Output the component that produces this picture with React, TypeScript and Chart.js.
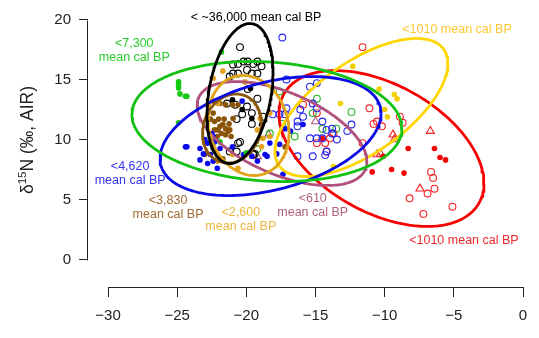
import React, { useEffect, useRef } from "react";
import { Chart, registerables } from "chart.js";

Chart.register(...registerables);

// ---------- axes ----------
const xTickValues = [-30, -25, -20, -15, -10, -5, 0];
const yTickValues = [0, 5, 10, 15, 20];
const yAxisTitle = ["δ", "15", "N (‰, AIR)"];

// ---------- point groups (δ13C, δ15N) ----------
const greenFilled: [number, number][] = [
  [-21.8, 17.3], [-24.9, 14.8], [-24.9, 14.6], [-24.9, 14.3], [-24.8, 13.8],
  [-24.4, 13.6], [-24.3, 13.6], [-24.9, 11.4], [-21.9, 9.8], [-20.0, 8.9],
];
const greenOpen: [number, number][] = [
  [-18.3, 10.5], [-19.2, 9.2], [-17.6, 14.0], [-12.4, 12.3], [-14.9, 13.4],
  [-15.2, 12.2], [-14.5, 10.9], [-13.5, 10.9], [-16.5, 10.25], [-17.4, 11.3],
];
const blueFilled: [number, number][] = [
  [-23.35, 9.25], [-22.8, 9.7], [-22.5, 10.5], [-22.4, 10.25], [-23.1, 8.8],
  [-22.6, 8.75], [-22.4, 8.2], [-22.8, 8.0], [-21.9, 9.25], [-21.0, 9.4],
  [-24.3, 9.4], [-20.3, 13.2], [-20.2, 8.75], [-19.2, 8.2], [-18.65, 8.75],
  [-18.3, 9.7], [-17.8, 8.8], [-17.6, 9.6], [-23.35, 8.3], [-24.4, 9.4],
  [-22.1, 7.6], [-18.5, 8.6], [-17.35, 7.1], [-19.6, 8.6], [-15.9, 11.25],
  [-17.2, 10.9], [-16.8, 10.7], [-22.3, 9.8], [-23.0, 10.0],
];
const blueOpen: [number, number][] = [
  [-17.4, 18.5], [-17.1, 15.0], [-15.4, 14.4], [-14.9, 14.7], [-17.1, 12.6],
  [-17.2, 12.1], [-16.1, 12.5], [-15.2, 13.0], [-14.9, 12.6], [-15.9, 11.9],
  [-16.3, 11.5], [-16.3, 11.1], [-14.5, 11.5], [-14.2, 10.8], [-13.8, 10.5],
  [-14.5, 10.1], [-13.45, 10.0], [-12.7, 10.7], [-12.4, 11.25], [-14.9, 10.1],
  [-15.4, 10.1], [-14.2, 9.0], [-15.2, 8.6], [-16.3, 8.6], [-13.8, 10.9],
  [-18.1, 12.1], [-17.6, 12.1], [-14.3, 8.7],
];
const blackOpen: [number, number][] = [
  [-20.46, 17.7], [-20.96, 16.25], [-20.6, 16.3], [-20.2, 16.5], [-19.9, 16.5],
  [-19.5, 16.3], [-19.2, 16.5], [-18.9, 16.1], [-20.6, 15.5], [-20.96, 15.5],
  [-19.95, 15.8], [-19.6, 15.5], [-19.2, 15.5], [-21.2, 15.25], [-19.9, 14.2],
  [-19.2, 13.4], [-19.95, 12.75], [-20.3, 12.1], [-19.6, 12.2], [-20.8, 12.9],
  [-21.4, 13.0], [-19.6, 11.3], [-18.8, 11.9], [-20.46, 9.8], [-20.7, 9.0],
  [-19.4, 8.8], [-20.6, 9.7], [-21.2, 9.0], [-19.5, 8.75], [-20.7, 11.7],
];
const blackFilled: [number, number][] = [
  [-19.7, 14.25], [-21.0, 13.3], [-19.6, 11.75], [-18.9, 11.25], [-20.3, 12.5],
];
const brownFilled: [number, number][] = [
  [-22.4, 12.2], [-22.3, 11.5], [-22.05, 10.8], [-21.9, 11.1], [-21.7, 11.25],
  [-21.5, 10.9], [-21.3, 10.7], [-21.8, 10.5], [-21.5, 10.4], [-21.2, 10.8],
  [-22.0, 11.7], [-21.6, 11.7], [-22.1, 10.25], [-21.9, 13.0], [-21.5, 12.9],
  [-21.0, 12.9], [-20.6, 12.9], [-21.7, 8.4], [-20.96, 11.75], [-23.0, 8.75],
  [-21.25, 11.3], [-21.1, 10.25], [-22.3, 10.8], [-22.6, 11.7], [-17.2, 9.4],
  [-22.4, 13.2],
];
const orangeFilled: [number, number][] = [
  [-21.7, 15.7], [-22.05, 13.0], [-19.0, 11.75], [-19.2, 10.8], [-18.8, 10.1],
  [-18.3, 10.25], [-19.6, 8.6], [-21.0, 8.75], [-22.1, 8.2], [-20.6, 7.6],
  [-18.9, 9.4], [-20.2, 8.6], [-22.4, 15.1], [-20.1, 14.8], [-18.3, 12.2],
];
const mauveTriangle: [number, number][] = [
  [-18.4, 10.4], [-19.2, 8.6], [-15.0, 11.5],
];
const redFilled: [number, number][] = [
  [-8.3, 9.25], [-6.4, 9.25], [-6.0, 8.5], [-5.6, 8.3], [-10.9, 7.3],
  [-9.5, 7.5], [-8.6, 7.2], [-10.1, 8.6], [-14.5, 10.1],
];
const redOpen: [number, number][] = [
  [-11.6, 17.7], [-11.1, 12.6], [-10.55, 11.5], [-10.8, 11.3], [-11.6, 9.7],
  [-14.9, 12.2], [-13.95, 10.1], [-14.3, 9.7], [-14.2, 9.0], [-13.7, 10.5],
  [-15.9, 12.9], [-8.9, 11.9], [-8.7, 11.4], [-10.2, 11.1], [-6.65, 7.3],
  [-6.5, 6.8], [-6.4, 5.9], [-6.9, 5.5], [-8.2, 5.1], [-5.1, 4.4],
  [-7.2, 3.8], [-14.9, 9.7],
];
const redTriangle: [number, number][] = [
  [-6.7, 10.7], [-9.4, 10.4], [-9.3, 10.0], [-7.45, 5.9], [-10.55, 8.75], [-10.3, 8.8],
];
const yellowFilled: [number, number][] = [
  [-12.3, 16.1], [-10.4, 14.2], [-9.3, 13.75], [-9.1, 13.4], [-13.2, 13.0],
  [-10.0, 12.5], [-9.8, 11.9], [-13.7, 7.75],
];

// ---------- ellipses: centre, half-width, y-shift at right extreme, vertical conjugate ----------
const ellipseNames = ["black", "green", "blue", "brown", "orange", "mauve", "yellow", "red"];
const ellipseCx = [-20.46, -18.51, -18.25, -21.04, -19.84, -17.42, -11.68, -10.23];
const ellipseCy = [13.83, 11.5, 10.29, 10.92, 11.17, 10.5, 12.67, 9.25];
const ellipseW = [2.39, 9.76, 7.99, 2.13, 2.93, 6.14, 6.25, 7.41];
const ellipseE = [1.77, -0.58, 1.875, 0.42, -0.57, -2.33, 3.67, -2.9];
const ellipseH = [5.56, 4.97, 4.59, 2.84, 4.13, 3.65, 4.43, 5.81];

// ---------- period labels ----------
const labelNames = ["black", "green", "yellowTop", "blue", "brown", "orange", "mauve", "red"];
const labelLines: string[][] = [
  ["< ~36,000 mean cal BP"],
  ["<7,300", "mean cal BP"],
  ["<1010 mean cal BP"],
  ["<4,620", "mean cal BP"],
  ["<3,830", "mean cal BP"],
  ["<2,600", "mean cal BP"],
  ["<610", "mean cal BP"],
  ["<1010 mean cal BP"],
];
const labelX = [-19.3, -28.1, -4.77, -28.4, -25.66, -20.4, -15.2, -4.27];
const labelY = [20.17, 18.0, 19.17, 7.75, 4.92, 3.92, 5.08, 1.58];

// ---------- styles ----------
const ellipseColor: Record<string, string> = {
  black: "#000000",
  green: "#12C212",
  blue: "#0A0AE6",
  brown: "#8C5A0F",
  orange: "#E0A418",
  mauve: "#B0507C",
  yellow: "#FFD600",
  red: "#F80000",
};
const labelColor: Record<string, string> = {
  black: "#000000",
  green: "#2ACB2A",
  yellowTop: "#FFC832",
  blue: "#3333F0",
  brown: "#A06A30",
  orange: "#EBB43C",
  mauve: "#B2607E",
  red: "#F02828",
};

const FONT = "'Liberation Sans', Arial, Helvetica, sans-serif";

function ellipsePoints(i: number) {
  const out: { x: number; y: number }[] = [];
  const n = 160;
  for (let k = 0; k <= n; k++) {
    const t = (k / n) * Math.PI * 2;
    out.push({
      x: ellipseCx[i] + ellipseW[i] * Math.cos(t),
      y: ellipseCy[i] + ellipseE[i] * Math.cos(t) + ellipseH[i] * Math.sin(t),
    });
  }
  return out;
}

const toPts = (a: [number, number][]) => a.map(([x, y]) => ({ x, y }));

function pointSet(data: [number, number][], color: string, kind: "filled" | "open" | "triangle") {
  if (kind === "filled") {
    return {
      data: toPts(data), showLine: false, pointStyle: "circle", pointRadius: 2.8,
      pointBackgroundColor: color, pointBorderColor: color, pointBorderWidth: 0, order: 2,
    };
  }
  if (kind === "open") {
    return {
      data: toPts(data), showLine: false, pointStyle: "circle", pointRadius: 3.4,
      pointBackgroundColor: "rgba(0,0,0,0)", pointBorderColor: color, pointBorderWidth: 1.1, order: 2,
    };
  }
  return {
    data: toPts(data), showLine: false, pointStyle: "triangle", pointRadius: 4.6,
    pointBackgroundColor: "rgba(0,0,0,0)", pointBorderColor: color, pointBorderWidth: 1.1, order: 2,
  };
}

const overlayPlugin = {
  id: "overlay",
  afterDraw(chart: any) {
    const { ctx, chartArea } = chart;
    const xs = chart.scales.x;
    const ys = chart.scales.y;
    ctx.save();
    // axis lines (R style, spanning first to last tick)
    ctx.strokeStyle = "#222";
    ctx.lineWidth = 1;
    const ax = Math.floor(chartArea.left) - 0.5;
    ctx.beginPath();
    ctx.moveTo(ax, Math.round(ys.getPixelForValue(yTickValues[0])) + 0.5);
    ctx.lineTo(ax, Math.round(ys.getPixelForValue(yTickValues[yTickValues.length - 1])) + 0.5);
    ctx.stroke();
    const ay = Math.floor(chartArea.bottom) + 0.5;
    ctx.beginPath();
    ctx.moveTo(Math.round(xs.getPixelForValue(xTickValues[0])) + 0.5, ay);
    ctx.lineTo(Math.round(xs.getPixelForValue(xTickValues[xTickValues.length - 1])) + 0.5, ay);
    ctx.stroke();

    // period labels
    ctx.textAlign = "center";
    ctx.textBaseline = "middle";
    ctx.font = `12.5px ${FONT}`;
    labelNames.forEach((name, i) => {
      ctx.fillStyle = labelColor[name];
      const px = xs.getPixelForValue(labelX[i]);
      const py = ys.getPixelForValue(labelY[i]);
      labelLines[i].forEach((line, j) => ctx.fillText(line, px, py + j * 14));
    });

    // y-axis title
    ctx.translate(27, 140);
    ctx.rotate(-Math.PI / 2);
    ctx.fillStyle = "#222";
    ctx.textAlign = "left";
    ctx.textBaseline = "alphabetic";
    const big = `17.5px ${FONT}`;
    const small = `11.5px ${FONT}`;
    ctx.font = big;
    const w0 = ctx.measureText(yAxisTitle[0]).width;
    const w2 = ctx.measureText(yAxisTitle[2]).width;
    ctx.font = small;
    const w1 = ctx.measureText(yAxisTitle[1]).width;
    let cx = -(w0 + w1 + w2) / 2;
    ctx.font = big;
    ctx.fillText(yAxisTitle[0], cx, 6);
    cx += w0;
    ctx.font = small;
    ctx.fillText(yAxisTitle[1], cx, -1.5);
    cx += w1;
    ctx.font = big;
    ctx.fillText(yAxisTitle[2], cx, 6);
    ctx.restore();
  },
};

export default function App() {
  const canvasRef = useRef<HTMLCanvasElement | null>(null);

  useEffect(() => {
    if (!canvasRef.current) return;
    const datasets: any[] = [
      ...ellipseNames.map((name, i) => ({
        data: ellipsePoints(i),
        showLine: true,
        borderColor: ellipseColor[name],
        borderWidth: 2.8,
        pointRadius: 0,
        fill: false,
        tension: 0,
        order: 0,
      })),
      pointSet(greenFilled, "#14C814", "filled"),
      pointSet(blueFilled, "#0A0AF0", "filled"),
      pointSet(orangeFilled, "#E3A21C", "filled"),
      pointSet(brownFilled, "#8A5508", "filled"),
      pointSet(blackFilled, "#000000", "filled"),
      pointSet(blackOpen, "#000000", "open"),
      pointSet(blueOpen, "#2525F0", "open"),
      pointSet(greenOpen, "#22B822", "open"),
      pointSet(mauveTriangle, "#B05A80", "triangle"),
      pointSet(redFilled, "#F40000", "filled"),
      pointSet(redOpen, "#F42020", "open"),
      pointSet(redTriangle, "#F42020", "triangle"),
      pointSet(yellowFilled, "#F2D000", "filled"),
    ];

    const tickFont = { family: FONT, size: 15 };
    const chart = new Chart(canvasRef.current, {
      type: "scatter",
      data: { datasets },
      plugins: [overlayPlugin],
      options: {
        animation: false,
        responsive: true,
        maintainAspectRatio: false,
        events: [],
        layout: { padding: { top: 8, right: 9, left: 0, bottom: 0 } },
        plugins: { legend: { display: false }, tooltip: { enabled: false } },
        scales: {
          x: {
            type: "linear",
            min: -31.446,
            max: 0.506,
            afterFit: (s: any) => { s.height = 51; s.paddingLeft = 0; s.paddingRight = 0; },
            afterBuildTicks: (s: any) => { s.ticks = xTickValues.map((v) => ({ value: v })); },
            ticks: {
              autoSkip: false,
              maxRotation: 0,
              padding: 10,
              color: "#222",
              font: tickFont,
              callback: (v: any) => (Number(v) < 0 ? "\u2212" + Math.abs(Number(v)) : String(v)),
            },
            grid: { display: true, drawOnChartArea: false, drawTicks: true, tickLength: 10, color: "#222", lineWidth: 1 },
            border: { display: false },
          },
          y: {
            type: "linear",
            min: -2.29,
            max: 20.96,
            afterFit: (s: any) => { s.width = 88; s.paddingTop = 0; s.paddingBottom = 0; },
            afterBuildTicks: (s: any) => { s.ticks = yTickValues.map((v) => ({ value: v })); },
            ticks: { autoSkip: false, padding: 8, color: "#222", font: tickFont },
            grid: { display: true, drawOnChartArea: false, drawTicks: true, tickLength: 9, color: "#222", lineWidth: 1 },
            border: { display: false },
          },
        },
      } as any,
    });
    return () => chart.destroy();
  }, []);

  return (
    <div style={{ position: "fixed", left: 0, top: 0, width: 539, height: 338, background: "#fff" }}>
      <canvas ref={canvasRef} />
    </div>
  );
}
